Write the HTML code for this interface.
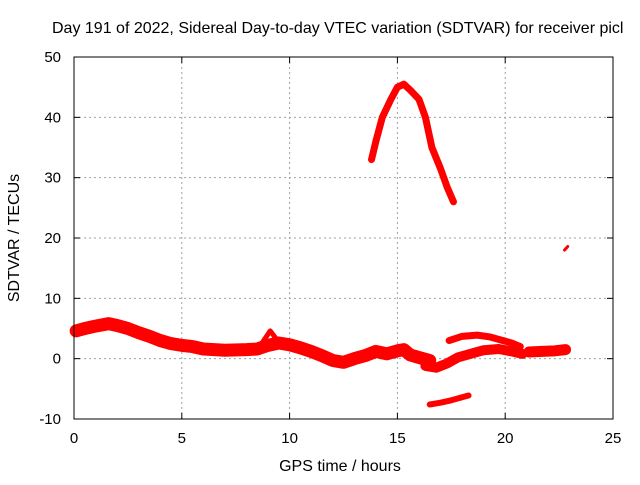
<!DOCTYPE html>
<html><head><meta charset="utf-8"><style>
body{margin:0;background:#fff;width:640px;height:480px;overflow:hidden}
svg text{font-family:"Liberation Sans",sans-serif;font-size:15px;fill:#000}
</style></head><body>
<svg id="c" width="640" height="480" xmlns="http://www.w3.org/2000/svg">
<text x="52" y="33" style="font-size:16px">Day 191 of 2022, Sidereal Day-to-day VTEC variation (SDTVAR) for receiver picl</text>
<g id="grid"></g><g id="data"></g><g id="axes"></g>
<text x="340" y="471" text-anchor="middle" style="font-size:16px">GPS time / hours</text>
<text transform="translate(19,238) rotate(-90)" text-anchor="middle" style="font-size:16px">SDTVAR / TECUs</text>
</svg>
<script>
const xTicks=[0,5,10,15,20,25];
const yTicks=[-10,0,10,20,30,40,50];
const mainBand=[[0.1,4.6],[0.5,5.0],[1,5.4],[1.6,5.8],[2,5.5],[2.5,5.0],[3,4.3],[3.5,3.7],[4,3.0],[4.5,2.5],[5,2.2],[5.5,2.0],[6,1.6],[7,1.4],[8,1.5],[8.5,1.6],[9,2.2],[9.5,2.6],[10,2.3],[10.5,1.8],[11,1.2],[11.5,0.5],[12,-0.3],[12.5,-0.6],[13,0],[13.5,0.5],[14,1.2],[14.5,0.8],[15,1.3],[15.3,1.5],[15.6,0.6],[16,0.2],[16.5,-0.3]];
const lowerRise=[[16.3,-1.2],[16.8,-1.5],[17.3,-0.8],[17.8,0.2],[18.5,0.9],[19,1.4],[19.7,1.6],[20.3,1.2],[20.8,0.8]];
const upperArc=[[17.4,3.0],[18,3.7],[18.7,3.9],[19.3,3.6],[19.8,3.1],[20.3,2.6],[20.7,2.0]];
const hump=[[8.5,1.5],[8.8,3.0],[9.1,4.6],[9.4,3.2],[9.7,2.2]];
const bottomArc=[[16.5,-7.6],[17,-7.3],[17.5,-6.9],[18,-6.4],[18.3,-6.1]];
const rightBlob=[[21.1,1.1],[21.7,1.2],[22.3,1.3],[22.8,1.5]];
const peak=[[13.8,33],[14,36],[14.3,40],[14.7,43],[15,45],[15.3,45.5],[15.6,44.5],[16,43],[16.3,40],[16.6,35],[17,31.5],[17.3,28.5],[17.6,26]];
const dot=[[22.75,18],[22.9,18.6]];
const NS="http://www.w3.org/2000/svg";
const L=74,R=613,T=57,B=419;
const xs=v=>L+(v-0)/25*(R-L);
const ys=v=>B-(v+10)/60*(B-T);
function mk(t,a,p){const e=document.createElementNS(NS,t);for(const k in a)e.setAttribute(k,a[k]);p.appendChild(e);return e;}
const g=document.getElementById('grid'),ax=document.getElementById('axes'),dg=document.getElementById('data');
xTicks.forEach(v=>{
 if(v>0&&v<25){const l=mk('line',{x1:xs(v),x2:xs(v),y1:T,y2:B,stroke:'#a0a0a0','stroke-dasharray':'2,3'},g);
 
 }
 mk('line',{x1:xs(v),x2:xs(v),y1:B,y2:B-6,stroke:'#000'},ax);
 mk('line',{x1:xs(v),x2:xs(v),y1:T,y2:T+6,stroke:'#000'},ax);
 const t=mk('text',{x:xs(v),y:B+24,'text-anchor':'middle'},ax);t.textContent=v;
 
 
});
yTicks.forEach(v=>{
 if(v>-10&&v<50){const l=mk('line',{x1:L,x2:R,y1:ys(v),y2:ys(v),stroke:'#a0a0a0','stroke-dasharray':'2,3'},g);
 
 }
 mk('line',{x1:L,x2:L+6,y1:ys(v),y2:ys(v),stroke:'#000'},ax);
 mk('line',{x1:R,x2:R-6,y1:ys(v),y2:ys(v),stroke:'#000'},ax);
 const t=mk('text',{x:L-13,y:ys(v)+5,'text-anchor':'end'},ax);t.textContent=v;
 
 
});
const box=mk('rect',{x:L,y:T,width:R-L,height:B-T,fill:'none',stroke:'#000'},ax);


[[mainBand,13,'main-band'],[lowerRise,10,'lower-rise'],[upperArc,7,'upper-arc'],[hump,5,'hump'],[bottomArc,6,'bottom-arc'],[rightBlob,11,'right-blob'],[peak,7,'peak-arc'],[dot,3,'isolated-point']].forEach(([s,w,n])=>{
 const p=mk('polyline',{points:s.map(d=>xs(d[0])+','+ys(d[1])).join(' '),fill:'none',stroke:'#ff0000','stroke-width':w,'stroke-linejoin':'round','stroke-linecap':'round'},dg);
 
 
});
</script>
</body></html>
